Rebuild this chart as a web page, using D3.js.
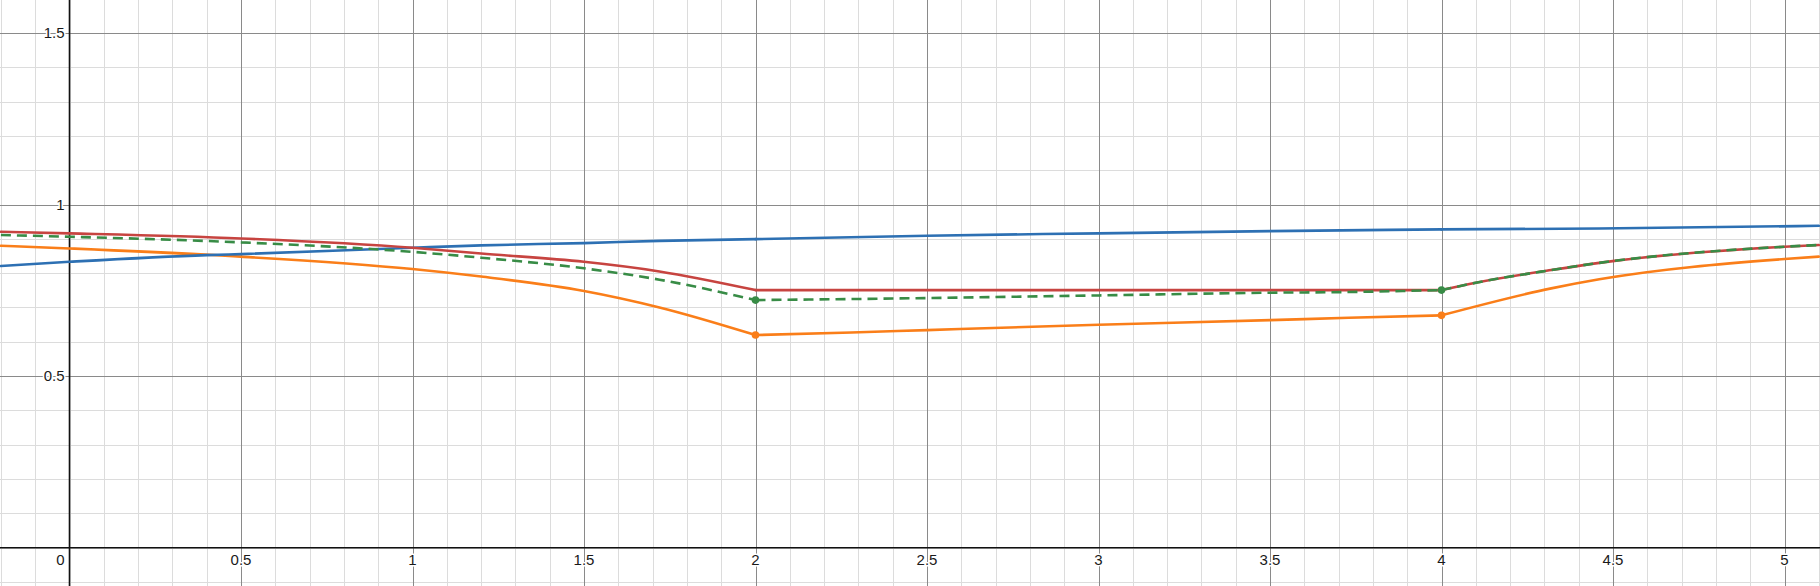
<!DOCTYPE html>
<html>
<head>
<meta charset="utf-8">
<script src="https://cdn.jsdelivr.net/npm/d3@7"></script>
<style>
  html, body { margin: 0; padding: 0; background: #fff; }
  svg { display: block; }
  .lbl { font-family: "Liberation Sans", Arial, sans-serif; font-size: 15px; fill: #1a1a1a;
         paint-order: stroke; stroke: #fff; stroke-width: 3px; stroke-linejoin: round; }
</style>
</head>
<body>
<div id="chart"></div>
<script>
// values
var blueX = [-0.2, 0, 0.4, 0.5, 1, 1.2, 1.5, 1.72, 2, 2.5, 3, 3.5, 4, 4.46, 5.1]
var blueY = [0.821, 0.833, 0.8526, 0.8555, 0.874, 0.881, 0.8876, 0.894, 0.899, 0.909, 0.916, 0.9225, 0.9275, 0.930, 0.938]

var redX = [-0.2, 0, 0.5, 1, 1.2, 1.5, 1.72, 2, 2.5, 3, 3.5, 4, 4.1, 4.32, 4.46, 5, 5.1]
var redY = [0.9205, 0.9158, 0.901, 0.874, 0.857, 0.833, 0.805, 0.7506, 0.7506, 0.7506, 0.7506, 0.7506, 0.772, 0.809, 0.830, 0.877, 0.882]

var greenX = [-0.2, 0, 0.5, 1, 1.2, 1.5, 1.72, 2, 2.28, 2.5, 3, 3.5, 3.73, 4, 4.1, 4.32, 4.46, 5, 5.1]
var greenY = [0.911, 0.906, 0.8896, 0.862, 0.845, 0.814, 0.781, 0.7215, 0.7245, 0.7274, 0.735, 0.743, 0.745, 0.7506, 0.772, 0.809, 0.830, 0.877, 0.882]

var orangeX = [-0.2, 0, 0.5, 1, 1.2, 1.5, 1.72, 2, 2.28, 2.5, 3, 3.5, 3.73, 4, 4.32, 4.46, 5, 5.1]
var orangeY = [0.880, 0.872, 0.848, 0.812, 0.790, 0.748, 0.700, 0.6196, 0.627, 0.634, 0.6496, 0.663, 0.670, 0.677, 0.7556, 0.782, 0.841, 0.848]

// points marked with dots
var greenDotX = [2, 4]
var greenDotY = [0.7215, 0.7506]
var orangeDotX = [2, 4]
var orangeDotY = [0.6196, 0.677]

// places where the curves have a corner
var breaks = [2, 4]

var xTicks = [0.5, 1, 1.5, 2, 2.5, 3, 3.5, 4, 4.5, 5]
var xTickLabels = ["0.5", "1", "1.5", "2", "2.5", "3", "3.5", "4", "4.5", "5"]
var yTicks = [0.5, 1, 1.5]
var yTickLabels = ["0.5", "1", "1.5"]

var width = 1820, height = 586

var x = d3.scaleLinear().domain([-69.5 / 343, (width - 69.5) / 343]).range([0, width])
var y = d3.scaleLinear().domain([-(height - 547.7) / 343.2, 547.7 / 343.2]).range([height, 0])

var svg = d3.select("#chart").append("svg")
	.attr("width", width)
	.attr("height", height)

// minor grid, every 0.1
var minorX = d3.range(-2, 52).map(function(d){ return d / 10 })
var minorY = d3.range(-1, 16).map(function(d){ return d / 10 })

svg.append("g").selectAll("line").data(minorX).enter().append("line")
	.attr("x1", function(d){ return Math.round(x(d)) + 0.5 })
	.attr("x2", function(d){ return Math.round(x(d)) + 0.5 })
	.attr("y1", 0).attr("y2", height)
	.attr("stroke", "#dcdcdc").attr("stroke-width", 1)

svg.append("g").selectAll("line").data(minorY).enter().append("line")
	.attr("y1", function(d){ return Math.round(y(d)) + 0.5 })
	.attr("y2", function(d){ return Math.round(y(d)) + 0.5 })
	.attr("x1", 0).attr("x2", width)
	.attr("stroke", "#dcdcdc").attr("stroke-width", 1)

// major grid, every 0.5
svg.append("g").selectAll("line").data(xTicks).enter().append("line")
	.attr("x1", function(d){ return Math.round(x(d)) + 0.5 })
	.attr("x2", function(d){ return Math.round(x(d)) + 0.5 })
	.attr("y1", 0).attr("y2", height)
	.attr("stroke", "#8a8a8a").attr("stroke-width", 1)

svg.append("g").selectAll("line").data(yTicks).enter().append("line")
	.attr("y1", function(d){ return Math.round(y(d)) + 0.5 })
	.attr("y2", function(d){ return Math.round(y(d)) + 0.5 })
	.attr("x1", 0).attr("x2", width)
	.attr("stroke", "#8a8a8a").attr("stroke-width", 1)

// axes
svg.append("line")
	.attr("x1", x(0)).attr("x2", x(0)).attr("y1", 0).attr("y2", height)
	.attr("stroke", "#111").attr("stroke-width", 1.6)
svg.append("line")
	.attr("y1", y(0)).attr("y2", y(0)).attr("x1", 0).attr("x2", width)
	.attr("stroke", "#111").attr("stroke-width", 1.6)

// split a series at the corner points
function segments(xs, ys){
	var pts = xs.map(function(d, i){ return [d, ys[i]] })
	var out = [], cur = []
	pts.forEach(function(p){
		cur.push(p)
		if (breaks.indexOf(p[0]) != -1 && cur.length > 1){
			out.push(cur)
			cur = [p]
		}
	})
	if (cur.length > 1) out.push(cur)
	return out
}

var line = d3.line()
	.x(function(d){ return x(d[0]) })
	.y(function(d){ return y(d[1]) })
	.curve(d3.curveMonotoneX)

function drawSeries(xs, ys, colour, dash){
	var g = svg.append("g")
	segments(xs, ys).forEach(function(seg){
		g.append("path")
			.datum(seg)
			.attr("d", line)
			.attr("fill", "none")
			.attr("stroke", colour)
			.attr("stroke-width", 2.6)
			.attr("stroke-linecap", dash ? "butt" : "round")
			.attr("stroke-dasharray", dash ? "10,6" : null)
	})
}

drawSeries(orangeX, orangeY, "#fa7e19", false)
drawSeries(blueX, blueY, "#2d70b3", false)
drawSeries(redX, redY, "#c74440", false)
drawSeries(greenX, greenY, "#388c46", true)

function drawDots(xs, ys, colour){
	svg.append("g").selectAll("circle").data(xs).enter().append("circle")
		.attr("cx", function(d){ return x(d) })
		.attr("cy", function(d, i){ return y(ys[i]) })
		.attr("r", 3.8)
		.attr("fill", colour)
}
drawDots(greenDotX, greenDotY, "#388c46")
drawDots(orangeDotX, orangeDotY, "#fa7e19")

// tick labels
svg.append("g").selectAll("text").data(xTicks).enter().append("text")
	.attr("class", "lbl")
	.attr("x", function(d){ return x(d) })
	.attr("y", y(0) + 17)
	.attr("text-anchor", "middle")
	.text(function(d, i){ return xTickLabels[i] })

svg.append("text")
	.attr("class", "lbl")
	.attr("x", x(0) - 5)
	.attr("y", y(0) + 17)
	.attr("text-anchor", "end")
	.text("0")

svg.append("g").selectAll("text").data(yTicks).enter().append("text")
	.attr("class", "lbl")
	.attr("x", x(0) - 5)
	.attr("y", function(d){ return y(d) + 5 })
	.attr("text-anchor", "end")
	.text(function(d, i){ return yTickLabels[i] })
</script>
</body>
</html>
